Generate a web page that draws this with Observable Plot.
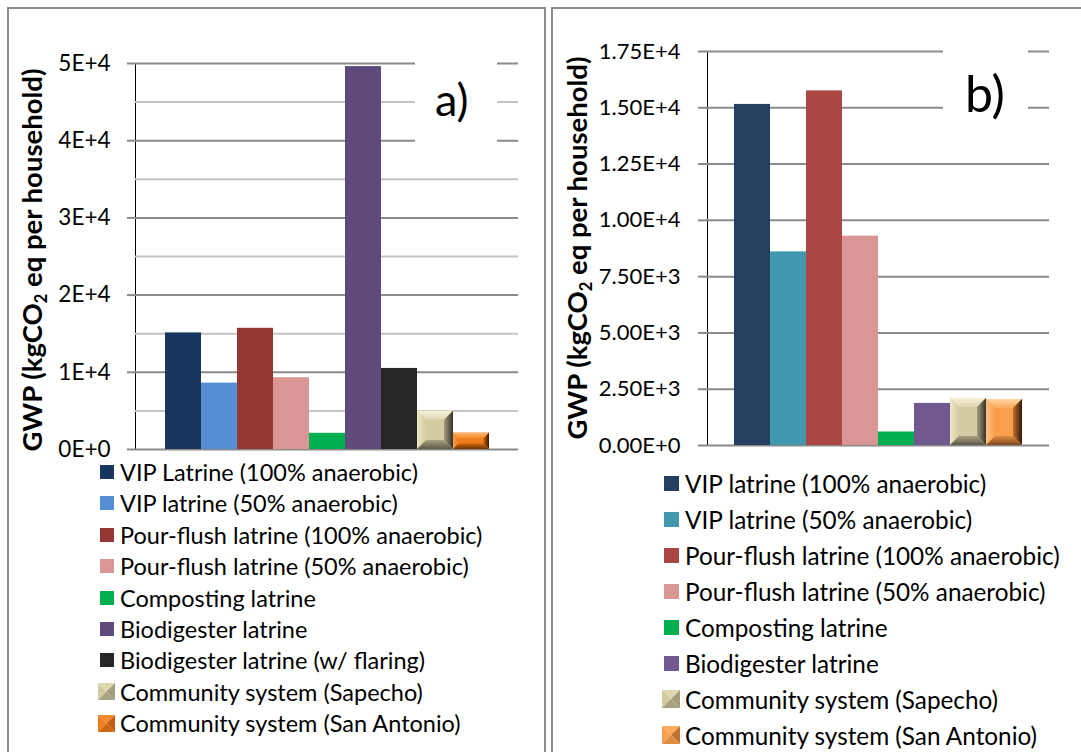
<!DOCTYPE html>
<html><head><meta charset="utf-8">
<script src="https://cdn.jsdelivr.net/npm/d3@7"></script>
<script src="https://cdn.jsdelivr.net/npm/@observablehq/plot@0.6"></script>
<style>
body{margin:0;background:#fff;font-family:Lato,sans-serif;}
#root{position:relative;width:1081px;height:752px;overflow:hidden;background:#fff;}
.panel{position:absolute;border:2px solid #8c8c8c;box-sizing:border-box;z-index:3;pointer-events:none;}
.chart{position:absolute;top:0;z-index:1;}
.ytitle{position:absolute;z-index:2;white-space:nowrap;font-weight:bold;font-size:27.5px;color:#000;transform:translate(-50%,-50%) rotate(-90deg);}
.ytitle sub{font-size:0.6em;vertical-align:-0.25em;}
.plabel{position:absolute;z-index:2;background:#fff;color:#000;}
.row{position:absolute;display:flex;align-items:center;white-space:nowrap;color:#000;}
.row .sw{flex:none;}
svg [aria-label^="y-axis"] line, svg [aria-label^="y-axis"] path{stroke:#8a8a8a;stroke-width:2px;}
</style></head><body><div id="root"></div>
<script>
// ---------- data: panel a ----------
const categoriesA = ["VIP Latrine (100% anaerobic)","VIP latrine (50% anaerobic)","Pour-flush latrine (100% anaerobic)","Pour-flush latrine (50% anaerobic)","Composting latrine","Biodigester latrine","Biodigester latrine (w/ flaring)","Community system (Sapecho)","Community system (San Antonio)"];
const valuesA = [15100, 8600, 15700, 9300, 2100, 49600, 10500, 4950, 2100];
const tickValuesA = [0, 10000, 20000, 30000, 40000, 50000];
const tickLabelsA = ["0E+0","1E+4","2E+4","3E+4","4E+4","5E+4"];
const minorGridA = [5000, 15000, 25000, 35000, 45000];
// ---------- data: panel b ----------
const categoriesB = ["VIP latrine (100% anaerobic)","VIP latrine (50% anaerobic)","Pour-flush latrine (100% anaerobic)","Pour-flush latrine (50% anaerobic)","Composting latrine","Biodigester latrine","Community system (Sapecho)","Community system (San Antonio)"];
const valuesB = [15150, 8600, 15750, 9300, 600, 1870, 2090, 2040];
const tickValuesB = [0, 2500, 5000, 7500, 10000, 12500, 15000, 17500];
const tickLabelsB = ["0.00E+0","2.50E+3","5.00E+3","7.50E+3","1.00E+4","1.25E+4","1.50E+4","1.75E+4"];
// ---------- styles ----------
const colorsA = ["#17375e","#558ed5","#953735","#d99694","#00b050","#604a7b","#262626","#d3cca2","#ef7d1c"];
const finishA = [null,null,null,null,null,null,null,"tan","orangeA"];
const colorsB = ["#243f60","#4198af","#aa4644","#d99694","#00b050","#71588f","#d3cca2","#f99f4c"];
const finishB = [null,null,null,null,null,null,"tan","orangeB"];
const bevels = {
  tan:     {top:["#f7f3dc","#ddd6ae"], left:["#eee8c6","#d3cca2"], right:["#34322a","#a39d7c"], bottom:["#5c5845","#a8a282"]},
  orangeA: {top:["#ffb570","#f48a2c"], left:["#fba055","#ef7d1c"], right:["#3e1a00","#c45d0e"], bottom:["#6e3300","#cc6612"]},
  orangeB: {top:["#ffd4a0","#fbaa5c"], left:["#ffc283","#f99f4c"], right:["#2e1a06","#c2702e"], bottom:["#7e4a1c","#e08c40"]}
};
const legendLabelsA = categoriesA, legendLabelsB = categoriesB;

const root = document.getElementById("root");
const NS = "http://www.w3.org/2000/svg";

function addBevels(svg, tag, st, prefix) {
  let defs = svg.querySelector("defs");
  if (!defs) { defs = document.createElementNS(NS, "defs"); svg.insertBefore(defs, svg.firstChild); }
  const dirs = {top:[0,0,0,1], left:[0,0,1,0], right:[1,0,0,0], bottom:[0,1,0,0]};
  for (const side in dirs) {
    const [x1,y1,x2,y2] = dirs[side];
    const g = document.createElementNS(NS, "linearGradient");
    g.setAttribute("id", `${prefix}-${side}`);
    g.setAttribute("x1", x1); g.setAttribute("y1", y1); g.setAttribute("x2", x2); g.setAttribute("y2", y2);
    st[side].forEach((c, i) => { const s = document.createElementNS(NS, "stop"); s.setAttribute("offset", i); s.setAttribute("stop-color", c); g.appendChild(s); });
    defs.appendChild(g);
  }
  svg.querySelectorAll(`g[aria-description="${tag}"] rect`).forEach(r => {
    const x = +r.getAttribute("x"), y = +r.getAttribute("y"), w = +r.getAttribute("width"), h = +r.getAttribute("height");
    const b = Math.min(9, h / 3, w / 3);
    const polys = {
      top: [[x,y],[x+w,y],[x+w-b,y+b],[x+b,y+b]],
      left: [[x,y],[x+b,y+b],[x+b,y+h-b],[x,y+h]],
      right: [[x+w,y],[x+w,y+h],[x+w-b,y+h-b],[x+w-b,y+b]],
      bottom: [[x,y+h],[x+w,y+h],[x+w-b,y+h-b],[x+b,y+h-b]]
    };
    for (const side in polys) {
      const p = document.createElementNS(NS, "polygon");
      p.setAttribute("points", polys[side].map(d => d.join(",")).join(" "));
      p.setAttribute("fill", `url(#${prefix}-${side})`);
      r.parentNode.appendChild(p);
    }
  });
}

function rows(cats, vals, colors, finish) {
  return cats.map((c, i) => ({cat: c, value: vals[i], color: colors[i], f: finish[i]}));
}

// panel borders
const pA = document.createElement("div"); pA.className = "panel"; Object.assign(pA.style, {left: "7px", top: "7px", width: "539px", height: "800px"}); root.appendChild(pA);
const pB = document.createElement("div"); pB.className = "panel"; Object.assign(pB.style, {left: "551px", top: "7px", width: "600px", height: "800px"}); root.appendChild(pB);

// chart a
const dataA = rows(categoriesA, valuesA, colorsA, finishA);
const chartA = Plot.plot({
  width: 545, height: 470, marginLeft: 135, marginRight: 27, marginTop: 63, marginBottom: 21,
  style: {background: "transparent", fontFamily: "Lato, sans-serif", fontSize: "22.5px", color: "#000"},
  x: {domain: categoriesA, paddingInner: 0, paddingOuter: 0.72, axis: null},
  y: {domain: [0, 50000], ticks: tickValuesA, tickFormat: v => tickLabelsA[tickValuesA.indexOf(v)], tickSize: 8, tickPadding: 17, label: null, line: true},
  color: {type: "identity"},
  marks: [
    Plot.ruleY(minorGridA, {stroke: "#c4c4c4", strokeWidth: 2}),
    Plot.ruleY(tickValuesA, {stroke: "#8a8a8a", strokeWidth: 2}),
    Plot.barY(dataA, {x: "cat", y: "value", fill: "color"}),
    ...["tan", "orangeA"].map(k => Plot.barY(dataA.filter(d => d.f === k), {x: "cat", y: "value", fill: "color", ariaDescription: "bevel-" + k}))
  ]
});
chartA.classList.add("chart"); chartA.style.left = "0px"; root.appendChild(chartA);
addBevels(chartA, "bevel-tan", bevels.tan, "a-tan");
addBevels(chartA, "bevel-orangeA", bevels.orangeA, "a-or");

// chart b
const dataB = rows(categoriesB, valuesB, colorsB, finishB);
const chartB = Plot.plot({
  width: 529, height: 470, marginLeft: 155, marginRight: 32, marginTop: 51, marginBottom: 25,
  style: {background: "transparent", fontFamily: "Lato, sans-serif", fontSize: "22px", color: "#000"},
  x: {domain: categoriesB, paddingInner: 0, paddingOuter: 0.73, axis: null},
  y: {domain: [0, 17500], ticks: tickValuesB, tickFormat: v => tickLabelsB[tickValuesB.indexOf(v)], tickSize: 9, tickPadding: 18, label: null, line: true},
  color: {type: "identity"},
  marks: [
    Plot.ruleY(tickValuesB, {stroke: "#8a8a8a", strokeWidth: 2}),
    Plot.barY(dataB, {x: "cat", y: "value", fill: "color"}),
    ...["tan", "orangeB"].map(k => Plot.barY(dataB.filter(d => d.f === k), {x: "cat", y: "value", fill: "color", ariaDescription: "bevel-" + k}))
  ]
});
chartB.classList.add("chart"); chartB.style.left = "552px"; root.appendChild(chartB);
addBevels(chartB, "bevel-tan", bevels.tan, "b-tan");
addBevels(chartB, "bevel-orangeB", bevels.orangeB, "b-or");

// y titles
function yTitle(cx, cy) {
  const d = document.createElement("div"); d.className = "ytitle";
  d.innerHTML = "GWP (kgCO<sub>2</sub> eq per household)";
  d.style.left = cx + "px"; d.style.top = cy + "px"; root.appendChild(d);
}
yTitle(33, 260); yTitle(578, 248);

// panel labels
function pLabel(text, l, t, w, h, fs, pad) {
  const d = document.createElement("div"); d.className = "plabel"; d.textContent = text;
  Object.assign(d.style, {left: l + "px", top: t + "px", width: w + "px", height: h + "px", fontSize: fs + "px", lineHeight: h + "px", paddingLeft: pad + "px", boxSizing: "border-box"});
  root.appendChild(d);
}
pLabel("a)", 415, 52, 82, 94, 45, 20);
pLabel("b)", 943, 44, 85, 98, 50, 22);

// legends
function swatchSVG(color, finish, size) {
  const s = document.createElementNS(NS, "svg");
  s.setAttribute("width", size); s.setAttribute("height", size); s.classList.add("sw");
  if (!finish) {
    const r = document.createElementNS(NS, "rect"); r.setAttribute("width", size); r.setAttribute("height", size); r.setAttribute("fill", color); s.appendChild(r);
  } else {
    const st = bevels[finish], m = size / 2;
    const tri = {top: [[0,0],[size,0],[m,m]], left: [[0,0],[m,m],[0,size]], right: [[size,0],[size,size],[m,m]], bottom: [[0,size],[size,size],[m,m]]};
    for (const side in tri) {
      const p = document.createElementNS(NS, "polygon");
      p.setAttribute("points", tri[side].map(d => d.join(",")).join(" "));
      p.setAttribute("fill", st[side][1]); s.appendChild(p);
    }
  }
  return s;
}
function legend(labels, colors, finish, swX, txtX, y0, step, fs, sw) {
  labels.forEach((lab, i) => {
    const row = document.createElement("div"); row.className = "row";
    const size = finish[i] ? sw + 3 : sw;
    const x0 = finish[i] ? swX - 2 : swX;
    Object.assign(row.style, {left: x0 + "px", top: (y0 + i * step - 15) + "px", height: "30px", fontSize: fs + "px", zIndex: 2});
    const s = swatchSVG(colors[i], finish[i], size);
    s.style.marginRight = (txtX - x0 - size) + "px";
    row.appendChild(s);
    const t = document.createElement("span"); t.textContent = lab; row.appendChild(t);
    root.appendChild(row);
  });
}
legend(legendLabelsA, colorsA, finishA, 100, 120, 472, 31.4, 23.5, 14);
legend(legendLabelsB, colorsB, finishB, 664, 685, 483, 36, 24.3, 15);
</script></body></html>
